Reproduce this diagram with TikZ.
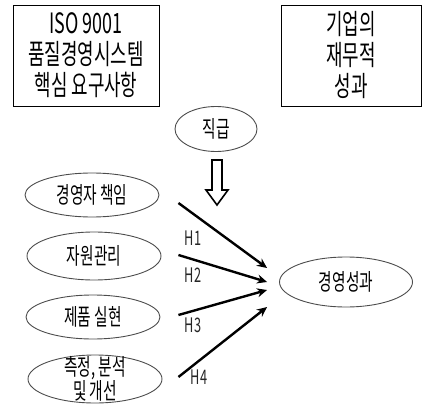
\documentclass[tikz,border=0pt]{standalone}
\usepackage{fontspec}
\setmainfont{Noto Sans CJK KR}[FakeStretch=0.64]
\usetikzlibrary{shapes.geometric,calc,arrows.meta}
\begin{document}
\begin{tikzpicture}[x=1pt,y=-1pt,
  frame/.style={draw,line width=0.9pt,minimum height=101pt,inner sep=0pt,align=center,font=\fontsize{28}{31}\selectfont},
  factor/.style={draw=black!70,ellipse,line width=0.9pt,minimum width=134pt,minimum height=44pt,inner sep=0pt,font=\fontsize{23}{22}\selectfont},
  hyp/.style={-{Stealth[length=10pt,width=9pt]},line width=2.4pt},
  hlabel/.style={font=\fontsize{20}{20}\selectfont,text=black!85}]
  \useasboundingbox (0,0) rectangle (422,406);
  % the two headings
  \node [frame,minimum width=146pt] (iso) at (86,55.5) {ISO 9001\\품질경영시스템\\핵심 요구사항};
  \node [frame,minimum width=140pt] (fin) at (351,55.5) {기업의\\재무적\\성과};
  % control variable
  \node [factor,minimum width=82pt,minimum height=45pt] (rank) at (216,129) {직급};
  \coordinate (down) at (217,160);
  \draw [line width=1.6pt,line join=miter]
    ($(down)+(-5,0)$) -- ++(10,0) -- ++(0,30) -- ++(6,0) -- ++(-11,15) -- ++(-11,-15) -- ++(6,0) -- cycle;
  % requirements
  \node [factor] (mgmt) at (92,195) {경영자 책임};
  \node [factor,minimum height=48pt] (res) at (94,256) {자원관리};
  \node [factor] (prod) at (93,317) {제품 실현};
  \node [factor,minimum height=48pt,label={[align=center,font=\fontsize{23}{22}\selectfont]center:측정, 분석\\및 개선}] (meas) at (95,379) {};
  \node [factor,minimum width=133pt,minimum height=50pt] (perf) at (346,282) {경영성과};
  % hypotheses
  \draw [hyp] ($(mgmt.east)+(19,8)$) -- ($(perf.west)+(-12,-14)$);
  \draw [hyp] ($(res.east)+(17,-1)$) -- ($(perf.west)+(-12,0)$);
  \draw [hyp] ($(prod.east)+(18,-2)$) -- ($(perf.west)+(-12,8)$);
  \draw [hyp] ($(meas.east)+(16,-2)$) -- ($(perf.west)+(-12,25)$);
  \node [hlabel] (h1) at (193,238) {H1};
  \node [hlabel] (h2) at (193,275) {H2};
  \node [hlabel] (h3) at (193,325) {H3};
  \node [hlabel] (h4) at (199,377) {H4};
\end{tikzpicture}
\end{document}
